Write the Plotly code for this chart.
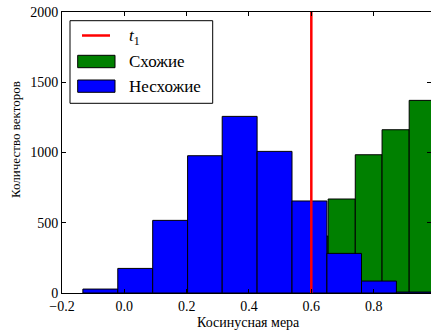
import plotly.graph_objects as go

# Data
blue_edges = [-0.133, -0.021, 0.091, 0.203, 0.314, 0.426, 0.538, 0.650, 0.761, 0.873, 0.985]
blue_counts = [28, 175, 517, 977, 1257, 1008, 655, 282, 85, 7]
green_edges = [0.567, 0.654, 0.741, 0.827, 0.914, 1.000]
green_counts = [405, 669, 984, 1162, 1371]
threshold = 0.6
x_ticks = [-0.2, 0.0, 0.2, 0.4, 0.6, 0.8]
x_ticktext = ["\u22120.2", "0.0", "0.2", "0.4", "0.6", "0.8"]
y_ticks = [0, 500, 1000, 1500, 2000]
legend_labels = ["<i>t</i><sub>1</sub>", "Схожие", "Несхожие"]

GREEN = "#008000"
BLUE = "#0000ff"
RED = "#ff0000"

def centers_widths(edges):
    c = [(a + b) / 2 for a, b in zip(edges[:-1], edges[1:])]
    w = [b - a for a, b in zip(edges[:-1], edges[1:])]
    return c, w

gc, gw = centers_widths(green_edges)
bc, bw = centers_widths(blue_edges)

font = "Liberation Serif, Times New Roman, DejaVu Serif, serif"

W, H = 431, 333
L, R, T, B = 62, 0, 12, 40
pw, ph = W - L - R, H - T - B

def px(x):
    return (x - L) / pw

def py(y):
    return (H - B - y) / ph

fig = go.Figure()
fig.add_trace(go.Bar(x=gc, y=green_counts, width=gw, name=legend_labels[1],
                     marker=dict(color=GREEN, line=dict(color="black", width=1)),
                     showlegend=False))
fig.add_trace(go.Bar(x=bc, y=blue_counts, width=bw, name=legend_labels[2],
                     marker=dict(color=BLUE, line=dict(color="black", width=1)),
                     showlegend=False))
fig.add_trace(go.Scatter(x=[threshold, threshold], y=[0, 2000], mode="lines",
                         name=legend_labels[0],
                         line=dict(color=RED, width=2.5), showlegend=False))

shapes = [
    dict(type="rect", xref="paper", yref="paper", x0=px(70), x1=px(212.7),
         y0=py(103.3), y1=py(20.7), line=dict(color="black", width=1),
         fillcolor="white", layer="above"),
    dict(type="line", xref="paper", yref="paper", x0=px(82), x1=px(110),
         y0=py(35.5), y1=py(35.5), line=dict(color=RED, width=2.5), layer="above"),
    dict(type="rect", xref="paper", yref="paper", x0=px(77.7), x1=px(115),
         y0=py(67.7), y1=py(55.3), line=dict(color="black", width=1),
         fillcolor=GREEN, layer="above"),
    dict(type="rect", xref="paper", yref="paper", x0=px(77.7), x1=px(115),
         y0=py(92.3), y1=py(80), line=dict(color="black", width=1),
         fillcolor=BLUE, layer="above"),
]

ann_font = dict(family=font, size=17, color="black")
annotations = [
    dict(text=legend_labels[0], xref="paper", yref="paper", x=px(127), y=py(37),
         xanchor="left", yanchor="middle", showarrow=False, font=ann_font),
    dict(text=legend_labels[1], xref="paper", yref="paper", x=px(127), y=py(61.5),
         xanchor="left", yanchor="middle", showarrow=False, font=ann_font),
    dict(text=legend_labels[2], xref="paper", yref="paper", x=px(127), y=py(86.5),
         xanchor="left", yanchor="middle", showarrow=False, font=ann_font),
    dict(text="Косинусная мера", xref="paper", yref="paper", x=px(248.7), y=py(322),
         xanchor="center", yanchor="middle", showarrow=False,
         font=dict(family=font, size=14, color="black")),
    dict(text="Количество векторов", xref="paper", yref="paper", x=px(15), y=py(140),
         xanchor="center", yanchor="middle", showarrow=False, textangle=-90,
         font=dict(family=font, size=13, color="black")),
]

fig.update_layout(
    width=W, height=H,
    margin=dict(l=L, r=R, t=T, b=B, autoexpand=False),
    barmode="overlay",
    plot_bgcolor="white", paper_bgcolor="white",
    font=dict(family=font, size=13, color="black"),
    showlegend=False,
    shapes=shapes,
    annotations=annotations,
    xaxis=dict(range=[-0.2, 0.984], tickvals=x_ticks, ticktext=x_ticktext,
               ticks="inside", ticklen=4, tickcolor="black", showline=True,
               linecolor="black", linewidth=1, mirror="ticks", showgrid=False,
               zeroline=False, tickfont=dict(family=font, size=14, color="black"),
               automargin=False),
    yaxis=dict(range=[0, 2000], tickvals=y_ticks,
               ticks="inside", ticklen=4, tickcolor="black", showline=True,
               linecolor="black", linewidth=1, mirror="ticks", showgrid=False,
               zeroline=False, tickfont=dict(family=font, size=14, color="black"),
               automargin=False),
)

fig.write_html("out.html", config={"displayModeBar": False},
               post_script="document.body.style.margin='0';document.body.style.padding='0';")
